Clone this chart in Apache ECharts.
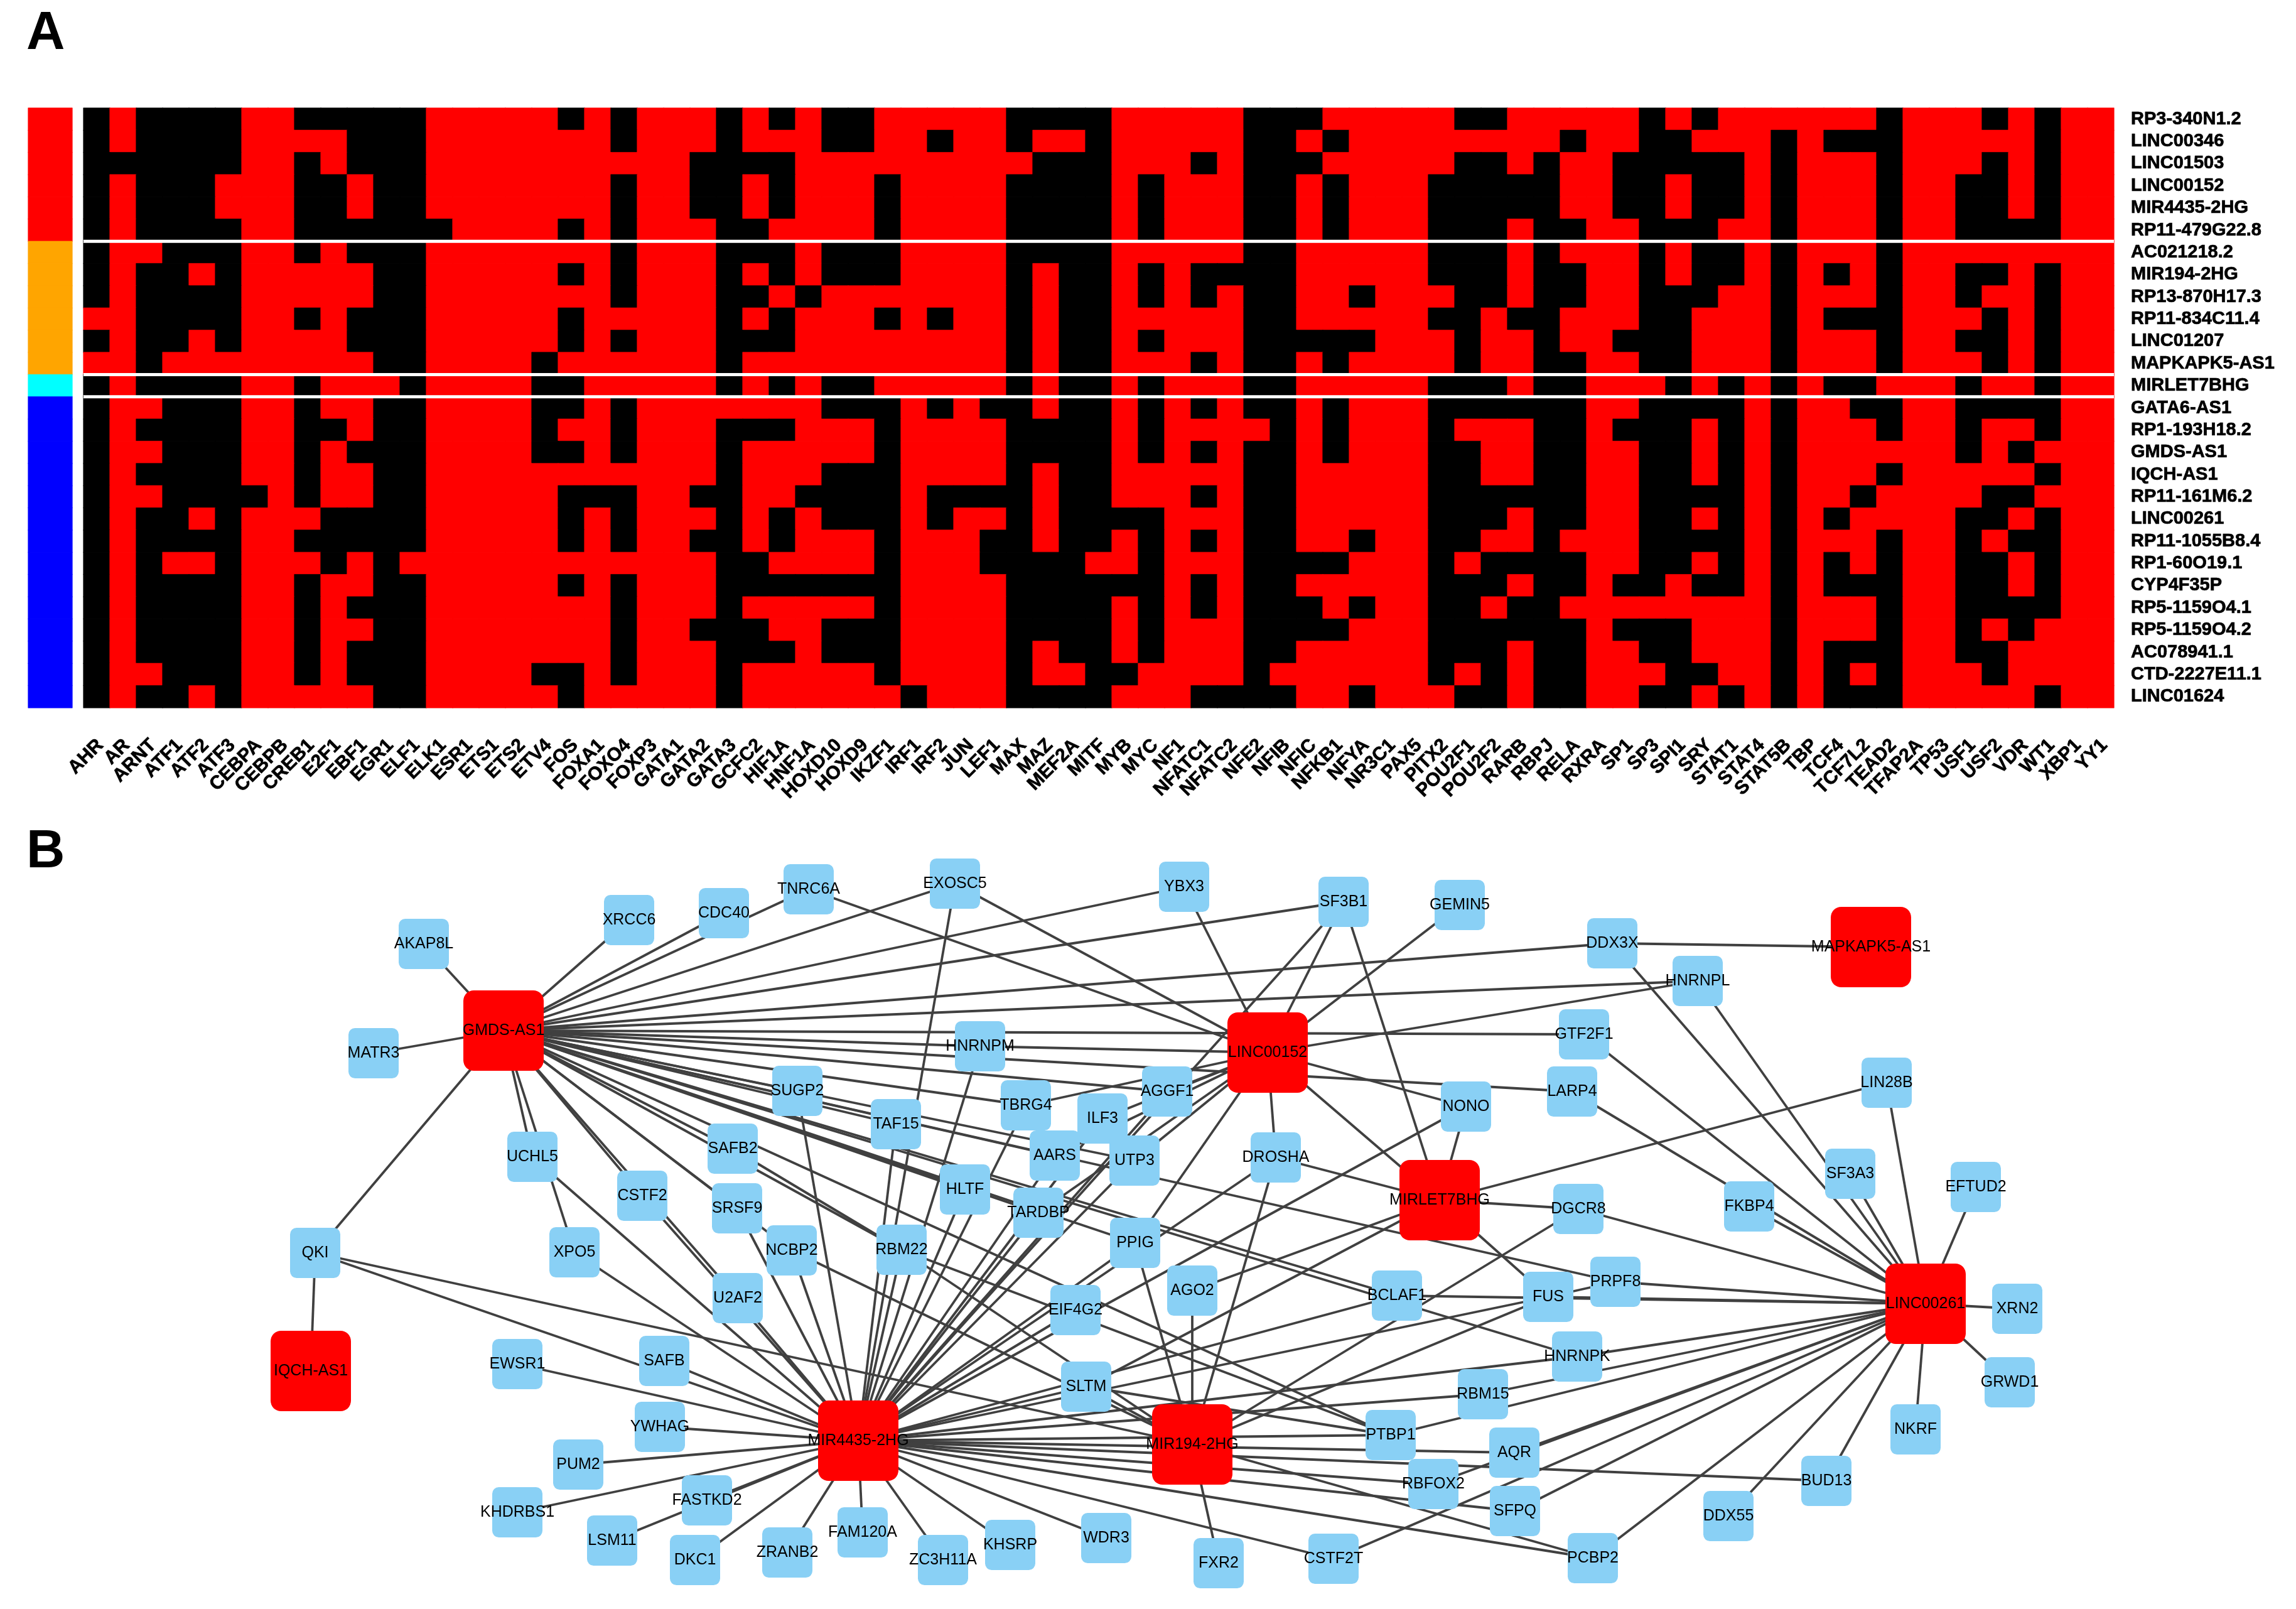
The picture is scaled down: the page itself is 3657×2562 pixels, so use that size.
<!DOCTYPE html>
<html><head><meta charset="utf-8">
<style>html,body{margin:0;padding:0;background:#fff}#c{width:3657px;height:2562px}</style>
<script src="https://cdn.jsdelivr.net/npm/echarts@6/dist/echarts.min.js"></script>
</head><body><div id="c"></div>
<script>
const rowNames=['RP3-340N1.2','LINC00346','LINC01503','LINC00152','MIR4435-2HG','RP11-479G22.8','AC021218.2','MIR194-2HG','RP13-870H17.3','RP11-834C11.4','LINC01207','MAPKAPK5-AS1','MIRLET7BHG','GATA6-AS1','RP1-193H18.2','GMDS-AS1','IQCH-AS1','RP11-161M6.2','LINC00261','RP11-1055B8.4','RP1-60O19.1','CYP4F35P','RP5-1159O4.1','RP5-1159O4.2','AC078941.1','CTD-2227E11.1','LINC01624'];
const colNames=['AHR','AR','ARNT','ATF1','ATF2','ATF3','CEBPA','CEBPB','CREB1','E2F1','EBF1','EGR1','ELF1','ELK1','ESR1','ETS1','ETS2','ETV4','FOS','FOXA1','FOXO4','FOXP3','GATA1','GATA2','GATA3','GCFC2','HIF1A','HNF1A','HOXD10','HOXD9','IKZF1','IRF1','IRF2','JUN','LEF1','MAX','MAZ','MEF2A','MITF','MYB','MYC','NF1','NFATC1','NFATC2','NFE2','NFIB','NFIC','NFKB1','NFYA','NR3C1','PAX5','PITX2','POU2F1','POU2F2','RARB','RBPJ','RELA','RXRA','SP1','SP3','SPI1','SRY','STAT1','STAT4','STAT5B','TBP','TCF4','TCF7L2','TEAD2','TFAP2A','TP53','USF1','USF2','VDR','WT1','XBP1','YY1'];
// column indices of the black (absent) cells in each row; all other cells are red
const blackCells=[
'0,2-5,8-12,18,20,24,26,28-29,35-38,44-46,52-53,59,61,68,72,74',
'0,2-5,10-12,20,24,28-29,32,35,38,44-45,47,56,59-60,64,66-68,74',
'0-5,8,10-12,23-26,36-38,42,44-46,52-53,55,58-62,64,68,72,74',
'0,2-4,8-9,11-12,20,23-24,26,30,35-38,40,44-45,47,51-55,58-59,61-62,64,68,71-72,74',
'0,2-4,8-9,11-12,20,23-24,26,30,35-38,40,44-45,47,51-55,58-59,61-62,64,68,71-72,74',
'0,2-5,8-13,18,20,24-25,30,35-38,40,44-45,47,51-53,55-56,59-61,64,68,71-74',
'0,3-5,8,10-12,20,24-26,28-30,35-38,44-45,51-53,55,59,61-62,64,68',
'0,2-3,5,11-12,18,20,24,26,28-30,35,37-38,40,42-45,51-53,55-56,59,61-62,64,66,68,71-72,74',
'0,2-5,11-12,20,24-25,27,35,37-38,40,42,44-45,48,52-53,55-56,59-61,64,68,71,74',
'2-5,8,10-12,18,24,26,30,32,35,37-38,44-45,51-52,54-55,59-60,64,66-68,72,74',
'0,2-3,5,10-12,18,20,24-26,35,37-38,40,44-48,52,55,58-60,64,68,71-72,74',
'2,11-12,17,24,35,37-38,42,44-45,47,52,55-56,59-60,64,68,72,74',
'0,2-5,8,12,17-18,24,26,28-29,35,37-38,40,44-45,51-53,55-56,60,62,64,66-67,71,74',
'0,3-5,8,11-12,17-18,20,28-30,32,34-35,37-38,40,42,44-45,47,51-56,59-62,64,67-68,71-74',
'0,2-5,8-9,11-12,17,20,24-26,30,35-38,40,45,47,51,55-56,58-60,62,64,68,71,74',
'0,3-5,8,10-12,17-18,20,24,30,35-38,40,42,44-45,47,51-52,55-56,59-60,62,64,71,73',
'0,2-5,8,11-12,24,28-30,35,37-38,44-45,51-52,55-56,59-60,62,64,68,74',
'0,3-6,8,11-12,18-20,23-24,27-30,32-35,37-38,42,44-45,51-56,59-62,64,67,72-73',
'0,2-3,5,9-12,18,20,24,26,28-30,32,35,37-40,44-45,51-53,55-56,59-60,62,64,66,71-72,74',
'0,2-5,8-12,18,20,23-24,26,30,34-35,37-38,40,42,44-45,48,51-52,55,59-62,64,68,71,73-74',
'0,2,5,9,11,24-25,30,34-37,40,44-47,51,53-56,59-60,62,64,66,68,71-72,74',
'0,2-5,8,11-12,18,20,24-30,35-40,42,44-45,51-53,55-56,58-59,61-62,64,66-68,71-72,74',
'0,2-5,8,10-12,20,24,30,35-38,40,42,44-46,48,51-52,54-55,64,68,71-74',
'0,2-5,8,11-12,20,23-25,28-30,35-38,40,44-47,51-56,58-60,64,68,71,73',
'0,2-5,8,10-12,20,24-26,28-30,35,37-38,40,44-45,51-53,55-56,59-60,64,66-68,71-72',
'0,3-5,8,10-12,17-18,20,24,30,35,38-39,44,51,53,55-56,60-61,64,66,68,72',
'0,2-3,5,11-12,18,24,31,35-38,42-45,48,52-53,55-56,59-60,62,64,66-68,74'
];
const rowGroups=[0,0,0,0,0,0,1,1,1,1,1,1,2,3,3,3,3,3,3,3,3,3,3,3,3,3,3];
const groupColors=['#ff0000','#ffa500','#00ffff','#0000ff'];
const groupBreaks=[6,12,13];

const hubNames=['GMDS-AS1','LINC00152','MIR4435-2HG','MIR194-2HG','MIRLET7BHG','LINC00261','IQCH-AS1','MAPKAPK5-AS1'];
const hubX=[802,2019,1367,1899,2293,3067,495,2980];
const hubY=[1641,1676,2294,2300,1911,2076,2183,1508];
const proteinNames=['AKAP8L','XRCC6','CDC40','TNRC6A','MATR3','SUGP2','TAF15','UCHL5','SAFB2','CSTF2','SRSF9','QKI','XPO5','NCBP2','RBM22','U2AF2','EWSR1','SAFB','YWHAG','PUM2','KHDRBS1','FASTKD2','LSM11','DKC1','ZRANB2','FAM120A','ZC3H11A','KHSRP','WDR3','FXR2','CSTF2T','SLTM','EIF4G2','AGO2','PPIG','BCLAF1','FUS','PTBP1','RBM15','AQR','RBFOX2','SFPQ','PRPF8','HNRNPK','XRN2','GRWD1','NKRF','BUD13','DDX55','PCBP2','EXOSC5','YBX3','SF3B1','GEMIN5','HNRNPM','GTF2F1','LARP4','TBRG4','AGGF1','ILF3','AARS','UTP3','DROSHA','NONO','HLTF','TARDBP','DGCR8','FKBP4','SF3A3','EFTUD2','LIN28B','DDX3X','HNRNPL'];
const proteinX=[675,1002,1153,1288,595,1270,1427,848,1167,1023,1174,502,915,1261,1436,1175,824,1058,1051,921,824,1126,975,1107,1254,1374,1502,1609,1762,1941,2124,1730,1713,1899,1808,2225,2466,2215,2362,2412,2283,2413,2573,2512,3213,3201,3051,2909,2753,2537,1521,1886,2140,2325,1561,2523,2504,1634,1859,1756,1680,1807,2032,2335,1537,1654,2514,2786,2947,3147,3005,2568,2704];
const proteinY=[1503,1465,1454,1416,1677,1737,1790,1842,1829,1904,1924,1995,1994,1991,1990,2067,2172,2167,2272,2332,2408,2389,2453,2484,2472,2440,2484,2460,2449,2489,2482,2208,2086,2055,1979,2063,2065,2285,2220,2313,2363,2406,2041,2160,2084,2201,2276,2358,2414,2481,1407,1412,1436,1441,1666,1647,1738,1760,1738,1781,1840,1848,1843,1762,1894,1931,1925,1921,1869,1890,1724,1502,1562];
const linksGMDS=['AKAP8L','XRCC6','CDC40','TNRC6A','MATR3','QKI','UCHL5','XPO5','CSTF2','U2AF2','SAFB2','SRSF9','NCBP2','RBM22','SUGP2','TAF15','EXOSC5','YBX3','SF3B1','DDX3X','HNRNPL','GTF2F1','HNRNPM','LARP4','AGGF1','TBRG4','AARS','UTP3','PRPF8','BCLAF1','HNRNPK','HLTF','TARDBP','PPIG','PTBP1'];
const linksMIR4435=['SAFB','YWHAG','EWSR1','PUM2','KHDRBS1','FASTKD2','LSM11','DKC1','ZRANB2','FAM120A','ZC3H11A','KHSRP','WDR3','CSTF2T','PCBP2','SFPQ','RBFOX2','BUD13','AQR','PTBP1','RBM15','HNRNPK','FUS','BCLAF1','SLTM','NONO','EIF4G2','DROSHA','PPIG','TARDBP','HLTF','UTP3','AARS','ILF3','AGGF1','SF3B1','TBRG4','HNRNPM','TAF15','EXOSC5','RBM22','NCBP2','SUGP2','U2AF2','CSTF2','SRSF9','UCHL5','XPO5','QKI'];
const linksMIR194=['AGO2','PPIG','DROSHA','FXR2','PCBP2','QKI','NCBP2','RBM22','FUS','DGCR8','SLTM'];
const linksLET7=['SF3B1','NONO','DROSHA','DGCR8','LIN28B','FUS','AGO2','SLTM','LINC00152'];
const linksLINC152=['TNRC6A','EXOSC5','YBX3','SF3B1','GEMIN5','HNRNPL','HNRNPM','NONO','DROSHA','TBRG4','AGGF1','ILF3','UTP3','AARS','TARDBP','PPIG'];
const linksLINC261=['XRN2','GRWD1','NKRF','BUD13','DDX55','PCBP2','SFPQ','CSTF2T','AQR','RBFOX2','PTBP1','RBM15','HNRNPK','FUS','BCLAF1','PRPF8','DGCR8','FKBP4','LARP4','GTF2F1','SF3A3','HNRNPL','DDX3X','LIN28B','EFTUD2'];
const linksOther=[['IQCH-AS1','QKI'],['MAPKAPK5-AS1','DDX3X'],['FUS','PRPF8'],['SLTM','PTBP1'],['RBM22','PTBP1'],['SAFB2','RBM22']];

const parseRuns=s=>{const set=new Set();s.split(',').forEach(p=>{const [a,b]=p.split('-').map(Number);for(let i=a;i<=(b===undefined?a:b);i++)set.add(i);});return set;};
const cellColors=['#000000','#ff0000'];
const heatData=[];
blackCells.forEach((s,r)=>{const blk=parseRuns(s);colNames.forEach((_,c)=>{const v=blk.has(c)?0:1;heatData.push({value:[c,r,v],itemStyle:{color:cellColors[v],borderColor:cellColors[v],borderWidth:0.6}});});});
const barData=rowGroups.map((g,r)=>({value:[0,r,g],itemStyle:{color:groupColors[g],borderColor:groupColors[g],borderWidth:0.6}}));

const gridTop=172,gridBottom=1127;
const gridH=gridBottom-gridTop;
const ROUND='path://M13,0H87A13,13 0 0 1 100,13V87A13,13 0 0 1 87,100H13A13,13 0 0 1 0,87V13A13,13 0 0 1 13,0Z';
const nodes=[];
proteinNames.forEach((n,i)=>nodes.push({name:n,value:[proteinX[i],proteinY[i]],symbolSize:[80,80],itemStyle:{color:'#89D0F5'}}));
hubNames.forEach((n,i)=>nodes.push({name:n,value:[hubX[i],hubY[i]],symbolSize:[128,128],itemStyle:{color:'#ff0000'}}));
const links=[];
const add=(hub,list)=>list.forEach(t=>links.push({source:hub,target:t}));
add('GMDS-AS1',linksGMDS);add('MIR4435-2HG',linksMIR4435);add('MIR194-2HG',linksMIR194);add('MIRLET7BHG',linksLET7);add('LINC00152',linksLINC152);add('LINC00261',linksLINC261);
linksOther.forEach(([a,b])=>links.push({source:a,target:b}));

const gapSeries=groupBreaks.map(b=>({type:'line',xAxisIndex:2,yAxisIndex:2,data:[[0,b],[colNames.length,b]],symbol:'none',silent:true,z:5,lineStyle:{color:'#fff',width:5}}));
const letterStyle={fontFamily:'Liberation Sans',fontWeight:'bold',fontSize:85,color:'#000'};
const labelInk={color:'#000',fontFamily:'Liberation Sans',fontWeight:'bold',textBorderColor:'#000',textBorderWidth:0.7};
const chart=echarts.init(document.getElementById('c'),null,{renderer:'canvas',width:3657,height:2562,devicePixelRatio:1});
chart.setOption({
 animation:false,backgroundColor:'#fff',
 title:[
  {text:'A',left:37,top:7,textStyle:letterStyle},
  {text:'B',left:37,top:1310,textStyle:letterStyle}
 ],
 grid:[
  {left:45,width:70,top:gridTop,height:gridH},
  {left:133,width:3234,top:gridTop,height:gridH},
  {left:0,top:0,width:3657,height:2562},
  {left:139,width:3234,top:gridTop,height:gridH}
 ],
 xAxis:[
  {gridIndex:0,type:'category',data:['group'],show:false},
  {gridIndex:1,type:'category',data:colNames,show:false},
  {gridIndex:1,type:'value',min:0,max:colNames.length,show:false},
  {gridIndex:2,type:'value',min:0,max:3657,show:false},
  {gridIndex:3,type:'category',data:colNames,axisLine:{show:false},axisTick:{show:false},splitLine:{show:false},
   axisLabel:{interval:0,rotate:45,margin:55,fontSize:30,...labelInk}}
 ],
 yAxis:[
  {gridIndex:0,type:'category',data:rowNames,inverse:true,show:false},
  {gridIndex:1,type:'category',data:rowNames,inverse:true,position:'right',axisLine:{show:false},axisTick:{show:false},splitLine:{show:false},
   axisLabel:{interval:0,margin:27,fontSize:29,...labelInk}},
  {gridIndex:1,type:'value',min:0,max:rowNames.length,inverse:true,show:false},
  {gridIndex:2,type:'value',min:0,max:2562,inverse:true,show:false},
  {gridIndex:3,type:'value',min:0,max:1,show:false}
 ],
 series:[
  {type:'heatmap',xAxisIndex:0,yAxisIndex:0,data:barData,silent:true,emphasis:{disabled:true}},
  {type:'heatmap',xAxisIndex:1,yAxisIndex:1,data:heatData,silent:true,emphasis:{disabled:true},progressive:0},
  ...gapSeries,
  {type:'graph',coordinateSystem:'cartesian2d',xAxisIndex:3,yAxisIndex:3,layout:'none',roam:false,silent:true,
   symbol:ROUND,data:nodes,links:links,edgeSymbol:['none','none'],z:6,
   lineStyle:{color:'#404040',width:3.8,opacity:1,curveness:0},
   label:{show:true,position:'inside',color:'#000',fontFamily:'Liberation Sans',fontSize:25,formatter:'{b}'},
   emphasis:{disabled:true}}
 ]
});
</script></body></html>
